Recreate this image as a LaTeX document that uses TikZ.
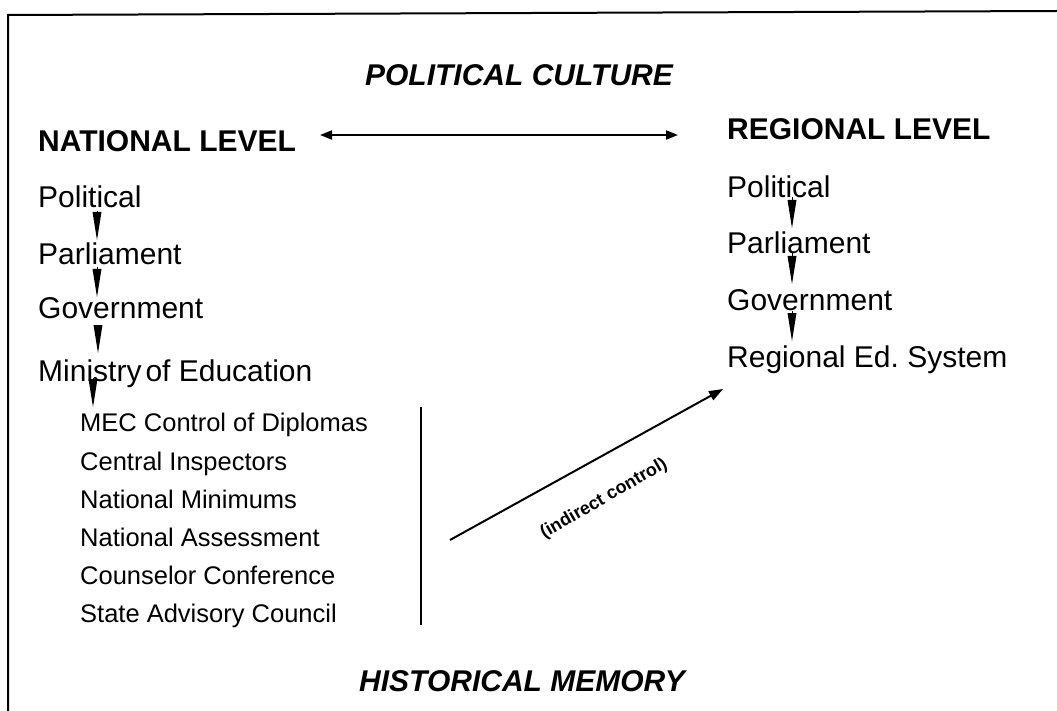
\documentclass[tikz,border=0pt]{standalone}
\usepackage{fontspec}
\setmainfont{Liberation Sans}
\usetikzlibrary{arrows.meta,calc}
\tikzset{
  lvltext/.style={anchor=base west, inner sep=0pt, font=\fontsize{30}{36}\selectfont},
  lvlhead/.style={anchor=base west, inner sep=0pt, font=\fontsize{30}{36}\selectfont\bfseries},
  titletext/.style={anchor=base, inner sep=0pt, font=\fontsize{30}{36}\selectfont\bfseries\itshape},
  subtext/.style={anchor=base west, inner sep=0pt, font=\fontsize{25.5}{30}\selectfont},
  wedgearrow/.style={line width=0pt, -{Triangle[length=28pt,width=9pt]}},
  linkarrow/.style={line width=1.8pt, {Triangle[length=12pt,width=9pt]}-{Triangle[length=12pt,width=9pt]}},
  ctrlarrow/.style={line width=2pt, -{Triangle[length=14pt,width=10pt]}},
  framerule/.style={line width=2pt},
  seprule/.style={line width=2pt},
  ctrllabel/.style={rotate=30, inner sep=0pt, font=\fontsize{18}{22}\selectfont\bfseries}
}
\begin{document}
\begin{tikzpicture}[x=1pt,y=-1pt]
\useasboundingbox (0,0) rectangle (1057,711);
% frame (only top and left edges visible)
\coordinate (ftl) at (8,15);
\coordinate (ftr) at (1057,11);
\coordinate (fbl) at (8,711);
\draw[framerule] (fbl) -- (ftl) -- (ftr);

% titles
\node[titletext] (pcult) at (519,86) {POLITICAL CULTURE};
\node[titletext] (hmem) at (522,691) {HISTORICAL MEMORY};

% national column
\node[lvlhead] (natl) at (38,152) {NATIONAL LEVEL};
\node[lvltext] (lpol) at (38,208) {Political};
\node[lvltext] (lparl) at (38,265) {Parliament};
\node[lvltext] (lgov) at (38,318) {Government};
\node[lvltext] (lmin) at (38,381) {Ministry\hspace{4pt}of Education};
\node[subtext] (s1) at (80,431) {MEC Control of Diplomas};
\node[subtext] (s2) at (80,470) {Central Inspectors};
\node[subtext] (s3) at (80,508) {National Minimums};
\node[subtext] (s4) at (80,546) {National Assessment};
\node[subtext] (s5) at (80,584) {Counselor Conference};
\node[subtext] (s6) at (80,622) {State Advisory Council};

\draw[wedgearrow] ($(lpol.base west)+(59,4)$) -- ($(lparl.base west)+(59,-25)$);
\draw[wedgearrow] ($(lparl.base west)+(59,3)$) -- ($(lgov.base west)+(59,-21)$);
\draw[wedgearrow] ($(lgov.base west)+(60,7)$) -- ($(lmin.base west)+(60,-28)$);
\draw[wedgearrow] ($(lmin.base west)+(55,-3)$) -- ($(s1.base west)+(13,-24)$);

% regional column
\node[lvlhead] (regl) at (727,140) {REGIONAL LEVEL};
\node[lvltext] (rpol) at (727,198) {Political};
\node[lvltext] (rparl) at (727,254) {Parliament};
\node[lvltext] (rgov) at (727,310) {Government};
\node[lvltext] (rsys) at (727,367) {Regional Ed.\ System};

\draw[wedgearrow] ($(rpol.base west)+(65,0)$) -- ($(rparl.base west)+(65,-26)$);
\draw[wedgearrow] ($(rparl.base west)+(65,0)$) -- ($(rgov.base west)+(65,-26)$);
\draw[wedgearrow] ($(rgov.base west)+(65,1)$) -- ($(rsys.base west)+(65,-26)$);

% link between levels
\coordinate (lkl) at (320,135);
\coordinate (lkr) at (678,135);
\draw[linkarrow] (lkl) -- (lkr);

% separator
\coordinate (sept) at (421,407);
\coordinate (sepb) at (421,625);
\draw[seprule] (sept) -- (sepb);

% indirect control
\coordinate (ic0) at (450,540);
\draw[ctrlarrow] (ic0) -- ($(rsys.base west)+(-4,22)$);
\node[ctrllabel] (iclab) at (604,499) {(indirect control)};
\end{tikzpicture}
\end{document}
